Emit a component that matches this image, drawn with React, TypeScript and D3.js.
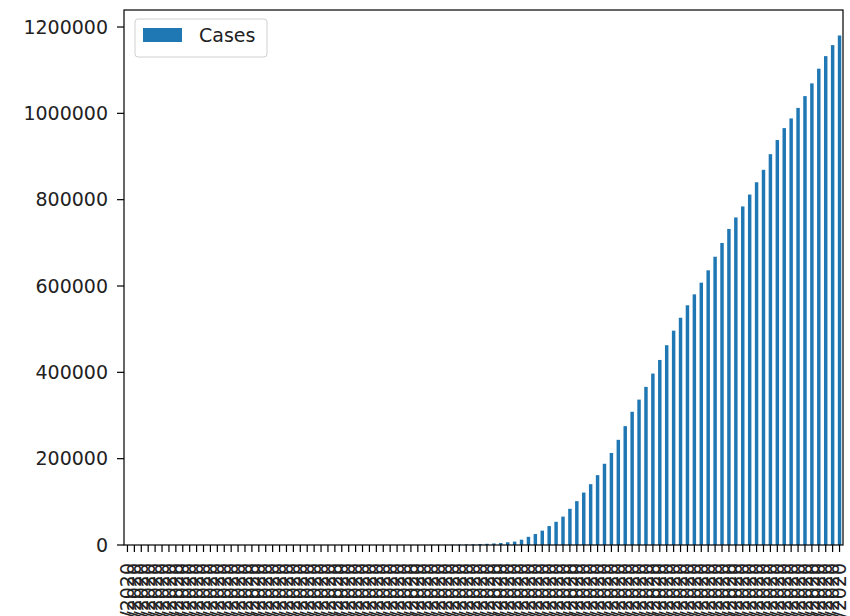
import * as React from 'react';
import * as d3 from 'd3';

// US cumulative confirmed cases, 1/22/2020 .. 5/4/2020
const cases = [
  1, 1, 2, 2, 5, 5, 5, 6, 6, 8,
  8, 8, 11, 11, 12, 12, 12, 12, 12, 12,
  13, 13, 14, 14, 14, 14, 14, 14, 14, 14,
  35, 35, 35, 53, 53, 59, 60, 62, 68, 75,
  100, 124, 158, 221, 319, 435, 541, 704, 994, 1301,
  1630, 2183, 2770, 3613, 4585, 6344, 7869, 12335, 18989, 25373,
  33276, 43843, 53736, 65778, 83836, 101657, 121465, 140909, 161831, 188172,
  213242, 243622, 275367, 308650, 336802, 366317, 397121, 428654, 462780, 496535,
  526396, 555313, 580619, 607670, 636350, 667801, 699706, 732197, 758809, 784326,
  811865, 840351, 869170, 905358, 938154, 965785, 988197, 1012582, 1039909, 1069424,
  1103461, 1132539, 1158040, 1180375,
];

const monthLengths = [
  { month: 1, from: 22, to: 31 },
  { month: 2, from: 1, to: 29 },
  { month: 3, from: 1, to: 31 },
  { month: 4, from: 1, to: 30 },
  { month: 5, from: 1, to: 4 },
];

const dates: string[] = [];
monthLengths.forEach(m => {
  for (let d = m.from; d <= m.to; d++) dates.push(`${m.month}/${d}/2020`);
});

const yTicks = [0, 200000, 400000, 600000, 800000, 1000000, 1200000];

const width = 850;
const height = 616;
const margin = { top: 10, right: 7, bottom: 71, left: 124 };
const font = '"DejaVu Sans", sans-serif';

export default function App() {
  const x = d3
    .scaleBand<string>()
    .domain(dates)
    .range([margin.left, width - margin.right])
    .paddingInner(0.5)
    .paddingOuter(0.25);

  const y = d3
    .scaleLinear()
    .domain([0, (d3.max(cases) as number) * 1.05])
    .range([height - margin.bottom, margin.top]);

  const fmt = d3.format('d');
  const x0 = margin.left;
  const x1 = width - margin.right;
  const y0 = height - margin.bottom;
  const y1 = margin.top;

  return (
    <svg
      width={width}
      height={height}
      style={{ position: 'absolute', left: 0, top: 0, background: '#fff' }}
    >
      <g>
        {cases.map((v, i) => (
          <rect
            key={dates[i]}
            x={x(dates[i])}
            width={x.bandwidth()}
            y={y(v)}
            height={y(0) - y(v)}
            fill="#1f77b4"
          />
        ))}
      </g>

      <g fontFamily={font} fontSize={19} fill="#222">
        {yTicks.map(t => (
          <g key={t} transform={`translate(0,${y(t)})`}>
            <line x1={x0 - 7} x2={x0} stroke="#000" strokeWidth={1.2} />
            <text x={x0 - 16} dy="0.35em" textAnchor="end">
              {fmt(t)}
            </text>
          </g>
        ))}
        {dates.map(d => {
          const cx = (x(d) as number) + x.bandwidth() / 2;
          return (
            <g key={d}>
              <line x1={cx} x2={cx} y1={y0} y2={y0 + 7} stroke="#000" strokeWidth={1.2} />
              <text
                transform={`translate(${cx},${y0 + 18}) rotate(-90)`}
                dy="0.35em"
                textAnchor="end"
              >
                {d}
              </text>
            </g>
          );
        })}
      </g>

      <rect
        x={x0}
        y={y1}
        width={x1 - x0}
        height={y0 - y1}
        fill="none"
        stroke="#000"
        strokeWidth={1.2}
      />

      <g>
        <rect x={135} y={19} width={132} height={38} rx={3} fill="#fff" fillOpacity={0.8} stroke="#d0d0d0" />
        <rect x={143} y={28} width={39} height={14} fill="#1f77b4" />
        <text x={199} y={42} fontFamily={font} fontSize={19} fill="#222">
          Cases
        </text>
      </g>
    </svg>
  );
}
